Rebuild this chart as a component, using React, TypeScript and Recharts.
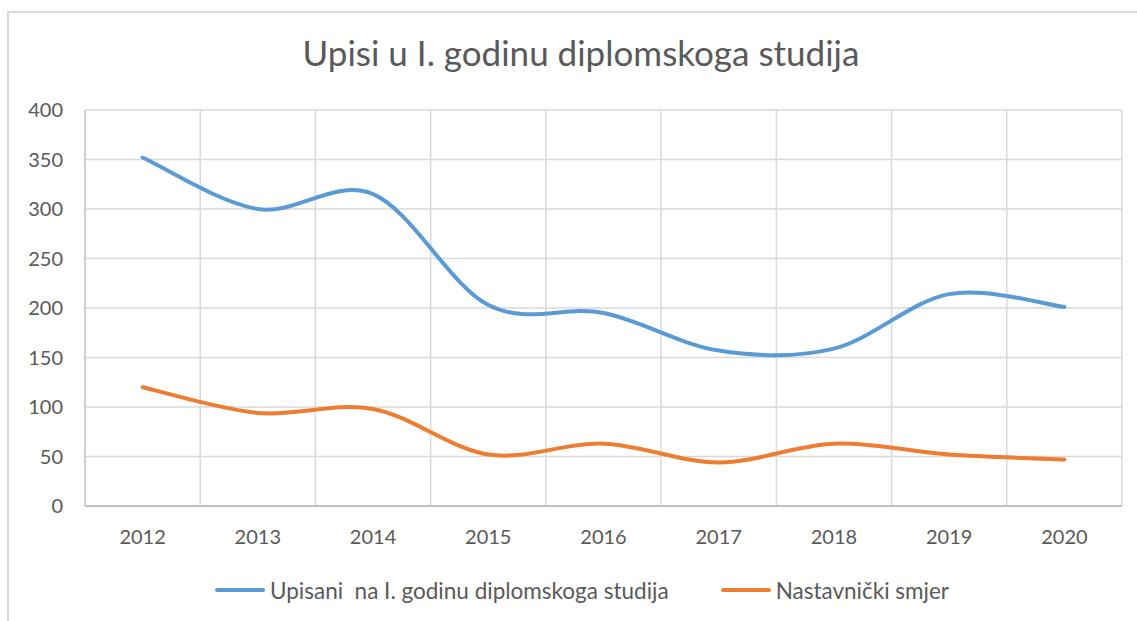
// Upisi u I. godinu diplomskoga studija – Excel-style smoothed line chart

import { LineChart, Line, XAxis, YAxis, CartesianGrid, Legend } from 'recharts';

const years = ['2012', '2013', '2014', '2015', '2016', '2017', '2018', '2019', '2020'];
const upisani = [352, 300, 315, 203, 195, 157, 159, 214, 201];
const nastavnicki = [120, 94, 98, 52, 63, 44, 63, 52, 47];
const yTicks = [0, 50, 100, 150, 200, 250, 300, 350, 400];

const seriesNames = ['Upisani  na I. godinu diplomskoga studija', 'Nastavnički smjer'];
const seriesColors = ['#5B9BD5', '#ED7D31'];

const data = years.map((year, i) => ({
  year,
  upisani: upisani[i],
  nastavnicki: nastavnicki[i],
}));

const FONT = 'Lato, "Open Sans", sans-serif';
const TEXT = '#595959';
const HALF_BAND = 57.6; // half a category, so points sit mid-band like Excel

// Excel "smoothed line" ≈ uniform Catmull-Rom through every point
function excelSmooth(context: any) {
  let pts: number[][] = [];
  return {
    areaStart() {},
    areaEnd() {},
    lineStart() {
      pts = [];
    },
    point(x: number, y: number) {
      pts.push([+x, +y]);
    },
    lineEnd() {
      const n = pts.length;
      if (!n) return;
      context.moveTo(pts[0][0], pts[0][1]);
      for (let i = 0; i < n - 1; i++) {
        const p0 = pts[Math.max(i - 1, 0)];
        const p1 = pts[i];
        const p2 = pts[i + 1];
        const p3 = pts[Math.min(i + 2, n - 1)];
        context.bezierCurveTo(
          p1[0] + (p2[0] - p0[0]) / 6,
          p1[1] + (p2[1] - p0[1]) / 6,
          p2[0] - (p3[0] - p1[0]) / 6,
          p2[1] - (p3[1] - p1[1]) / 6,
          p2[0],
          p2[1],
        );
      }
    },
  };
}

function LegendContent() {
  return (
    <div style={{ display: 'flex', alignItems: 'center', height: 30, fontFamily: FONT, fontSize: 22.5, color: TEXT }}>
      {seriesNames.map((name, i) => (
        <div key={name} style={{ display: 'flex', alignItems: 'center', marginLeft: i === 0 ? 215 : 52 }}>
          <div style={{ width: 50, height: 4, borderRadius: 2, background: seriesColors[i], marginRight: 5 }} />
          <span style={{ whiteSpace: 'pre' }}>{name}</span>
        </div>
      ))}
    </div>
  );
}

export default function App() {
  return (
    <div style={{ position: 'absolute', left: 0, top: 0, width: 1137, height: 621, overflow: 'hidden', background: '#fff' }}>
      <div
        style={{
          position: 'absolute',
          left: 7,
          top: 11,
          width: 1200,
          height: 700,
          border: '2px solid #d9d9d9',
        }}
      />
      <div
        style={{
          position: 'absolute',
          left: 281,
          top: 31,
          width: 600,
          textAlign: 'center',
          fontFamily: FONT,
          fontSize: 35,
          color: TEXT,
          whiteSpace: 'nowrap',
        }}
      >
        Upisi u I. godinu diplomskoga studija
      </div>
      <LineChart width={1137} height={621} data={data} margin={{ top: 110, right: 15, bottom: 25, left: 10 }}>
        <CartesianGrid
          stroke="#d9d9d9"
          strokeWidth={1.5}
          verticalCoordinatesGenerator={({ offset }: any) =>
            years.map((_, i) => offset.left + ((i + 1) * offset.width) / years.length)
          }
        />
        <XAxis
          dataKey="year"
          height={60}
          padding={{ left: HALF_BAND, right: HALF_BAND }}
          tickLine={false}
          tickSize={8}
          tickMargin={16}
          axisLine={{ stroke: '#bfbfbf', strokeWidth: 2 }}
          tick={{ fill: TEXT, fontSize: 20, fontFamily: FONT }}
        />
        <YAxis
          width={75}
          domain={[0, 400]}
          ticks={yTicks}
          tickLine={false}
          tickSize={8}
          tickMargin={14}
          axisLine={{ stroke: '#d0d0d0', strokeWidth: 2 }}
          tick={{ fill: TEXT, fontSize: 20, fontFamily: FONT }}
        />
        <Legend
          verticalAlign="bottom"
          content={LegendContent}
          wrapperStyle={{ left: 0, top: 575, bottom: 'auto', width: 1137, height: 30 }}
        />
        <Line
          dataKey="upisani"
          name={seriesNames[0]}
          type={excelSmooth as any}
          stroke={seriesColors[0]}
          strokeWidth={4}
          strokeLinecap="round"
          dot={false}
          activeDot={false}
          isAnimationActive={false}
        />
        <Line
          dataKey="nastavnicki"
          name={seriesNames[1]}
          type={excelSmooth as any}
          stroke={seriesColors[1]}
          strokeWidth={4}
          strokeLinecap="round"
          dot={false}
          activeDot={false}
          isAnimationActive={false}
        />
      </LineChart>
    </div>
  );
}
